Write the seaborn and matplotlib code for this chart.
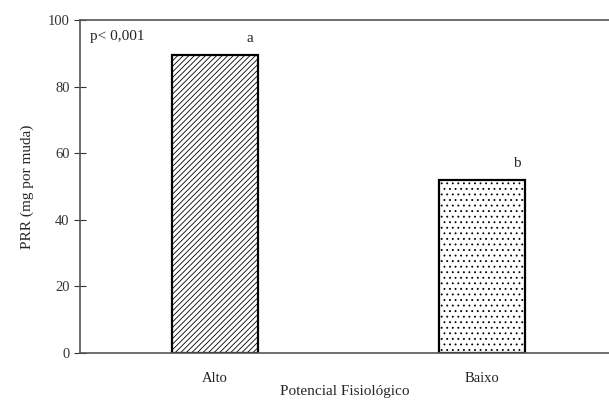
import pandas as pd
import matplotlib.pyplot as plt
import seaborn as sns

categorias = ['Alto', 'Baixo']
prr = [89.5, 52.0]
letras = ['a', 'b']
hachuras = ['//////', '...']

df = pd.DataFrame({'potencial': categorias, 'prr': prr})

sns.set_style('ticks')
plt.rcParams['font.family'] = ['Liberation Serif', 'DejaVu Serif']
plt.rcParams['hatch.linewidth'] = 0.6
plt.rcParams['hatch.color'] = '#333333'

fig = plt.figure(figsize=(6.09, 4.0), dpi=100)
ax = fig.add_axes([80 / 609, 47 / 400, 529 / 609, 333 / 400])

sns.barplot(data=df, x='potencial', y='prr', color='white', edgecolor='black',
            linewidth=1.6, width=0.32, ax=ax)

for barra, h in zip(ax.patches, hachuras):
    barra.set_hatch(h)

for i, (v, letra) in enumerate(zip(prr, letras)):
    ax.text(i + 0.13, v + 3, letra, ha='center', va='bottom', fontsize=11)

ax.text(-0.47, 97, 'p< 0,001', ha='left', va='top', fontsize=11)

ax.set_xlim(-0.506, 1.476)
ax.set_ylim(0, 100)
ax.set_yticks(range(0, 101, 20))
ax.tick_params(axis='y', direction='inout', length=8, labelsize=10.5, colors='#333333')
ax.tick_params(axis='x', length=0, labelsize=10.5, pad=14, colors='#222222')
ax.set_xlabel('Potencial Fisiológico', fontsize=11, labelpad=0)
ax.set_ylabel('PRR (mg por muda)', fontsize=11, labelpad=10)

ax.spines['right'].set_visible(False)
for s in ['left', 'bottom', 'top']:
    ax.spines[s].set_color('#555555')
    ax.spines[s].set_linewidth(1.2)

fig.savefig('out.png', dpi=100)
